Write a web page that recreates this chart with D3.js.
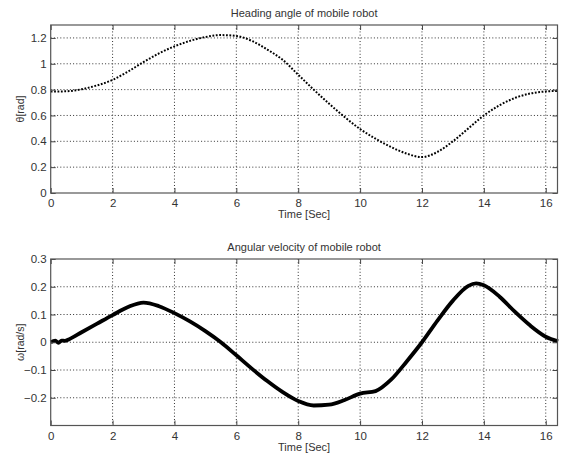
<!DOCTYPE html>
<html><head><meta charset="utf-8">
<script src="https://cdn.jsdelivr.net/npm/d3@7"></script>
<style>
html,body{margin:0;padding:0;background:#fff;}
svg{display:block;}
text{font-family:"Liberation Sans",Arial,sans-serif;fill:#333;}
</style></head>
<body>
<script>
// ---- data ----
const thetaTime = [0,0.5,1,1.5,2,2.5,3,3.5,4,4.5,5,5.5,6,6.5,7,7.5,8,8.5,9,9.5,10,10.5,11,11.5,12,12.5,13,13.5,14,14.5,15,15.5,16,16.4];
const thetaValues = [0.785,0.787,0.803,0.833,0.875,0.94,1.013,1.08,1.135,1.177,1.207,1.222,1.215,1.177,1.11,1.03,0.915,0.80,0.69,0.588,0.495,0.42,0.356,0.305,0.278,0.318,0.40,0.50,0.60,0.678,0.735,0.77,0.786,0.79];
const omegaTime = [0,0.15,0.25,0.35,0.45,0.6,1,1.5,2,2.5,3,3.5,4,4.5,5,5.5,6,6.5,7,7.5,8,8.5,9,9.5,10,10.5,11,11.5,12,12.5,13,13.5,13.75,14,14.5,15,15.5,16,16.4];
const omegaValues = [0,0.006,-0.002,0.006,0.005,0.011,0.036,0.067,0.098,0.127,0.143,0.13,0.105,0.075,0.04,0.0,-0.047,-0.095,-0.14,-0.18,-0.212,-0.228,-0.225,-0.208,-0.185,-0.176,-0.135,-0.07,0.0,0.078,0.15,0.203,0.212,0.205,0.165,0.11,0.06,0.02,0.003];
const xTicks = [0,2,4,6,8,10,12,14,16];
const thetaTicks = [0,0.2,0.4,0.6,0.8,1,1.2];
const omegaTicks = [-0.2,-0.1,0,0.1,0.2,0.3];
const titles = ["Heading angle of mobile robot","Angular velocity of mobile robot"];
const yLabels = ["θ[rad]","ω[rad/s]"];
const xLabel = "Time [Sec]";

const W = 562, H = 458;
const svg = d3.select("body").append("svg").attr("width",W).attr("height",H);

function panel(cfg){
  const {top,bottom,yDomain,yTicks,times,values,title,yLabel,lineStyle} = cfg;
  const left = 50.7, right = 557.5;
  const x = d3.scaleLinear().domain([0,16.38]).range([left,right]);
  const y = d3.scaleLinear().domain(yDomain).range([bottom,top]);
  const g = svg.append("g");
  // grid
  g.selectAll(".vg").data(xTicks.filter(d=>d>0)).join("line")
    .attr("x1",d=>x(d)).attr("x2",d=>x(d)).attr("y1",top).attr("y2",bottom)
    .attr("stroke","#333").attr("stroke-width",1).attr("stroke-dasharray","1,2.2");
  g.selectAll(".hg").data(yTicks.filter(d=>y(d)<bottom-1 && y(d)>top+1)).join("line")
    .attr("x1",left).attr("x2",right).attr("y1",d=>y(d)).attr("y2",d=>y(d))
    .attr("stroke","#333").attr("stroke-width",1).attr("stroke-dasharray","1,2.2");
  // data line
  const line = d3.line().x((d,i)=>x(times[i])).y(d=>y(d)).curve(d3.curveMonotoneX);
  const path = g.append("path").datum(values).attr("d",line).attr("fill","none").attr("stroke","#000");
  if(lineStyle==="dotted"){
    path.attr("stroke-width",2).attr("stroke-dasharray","1.8,1.6");
  } else {
    path.attr("stroke-width",3.8).attr("stroke-linejoin","round");
  }
  // axes (ticks inward)
  const ax = d3.axisBottom(x).tickValues(xTicks).tickSizeInner(-5).tickSizeOuter(0).tickPadding(6).tickFormat(d3.format("d"));
  const axb = g.append("g").attr("transform",`translate(0,${bottom})`).call(ax);
  const axt = g.append("g").attr("transform",`translate(0,${top})`).call(d3.axisTop(x).tickValues(xTicks).tickSizeInner(-5).tickSizeOuter(0).tickFormat(""));
  const ay = d3.axisLeft(y).tickValues(yTicks).tickSizeInner(-5).tickSizeOuter(0).tickPadding(4).tickFormat(d=>d3.format("")(+d.toFixed(2)));
  const ayl = g.append("g").attr("transform",`translate(${left},0)`).call(ay);
  const ayr = g.append("g").attr("transform",`translate(${right},0)`).call(d3.axisRight(y).tickValues(yTicks).tickSizeInner(-5).tickSizeOuter(0).tickFormat(""));
  [axb,axt,ayl,ayr].forEach(a=>{
    a.select(".domain").remove();
    a.selectAll("line").attr("stroke","#444");
    a.selectAll("text").attr("font-size",11.5).attr("fill","#333").attr("font-family","'Liberation Sans',Arial,sans-serif");
  });
  // box
  g.append("rect").attr("x",left).attr("y",top).attr("width",right-left).attr("height",bottom-top)
    .attr("fill","none").attr("stroke","#555").attr("stroke-width",1.2);
  // labels
  g.append("text").attr("x",(left+right)/2).attr("y",top-8).attr("text-anchor","middle").attr("font-size",11).text(title);
  g.append("text").attr("x",(left+right)/2).attr("y",bottom+25).attr("text-anchor","middle").attr("font-size",11).text(xLabel);
  g.append("text").attr("transform",`translate(24,${(top+bottom)/2}) rotate(-90)`).attr("text-anchor","middle").attr("font-size",11)
    .attr("font-family","'DejaVu Sans','Liberation Sans',sans-serif").attr("font-size",10.5).text(yLabel);
}

panel({top:25,bottom:193,yDomain:[0,1.3],yTicks:thetaTicks,times:thetaTime,values:thetaValues,title:titles[0],yLabel:yLabels[0],lineStyle:"dotted"});
panel({top:259,bottom:425.5,yDomain:[-0.3,0.3],yTicks:omegaTicks,times:omegaTime,values:omegaValues,title:titles[1],yLabel:yLabels[1],lineStyle:"solid"});
</script>
</body></html>
